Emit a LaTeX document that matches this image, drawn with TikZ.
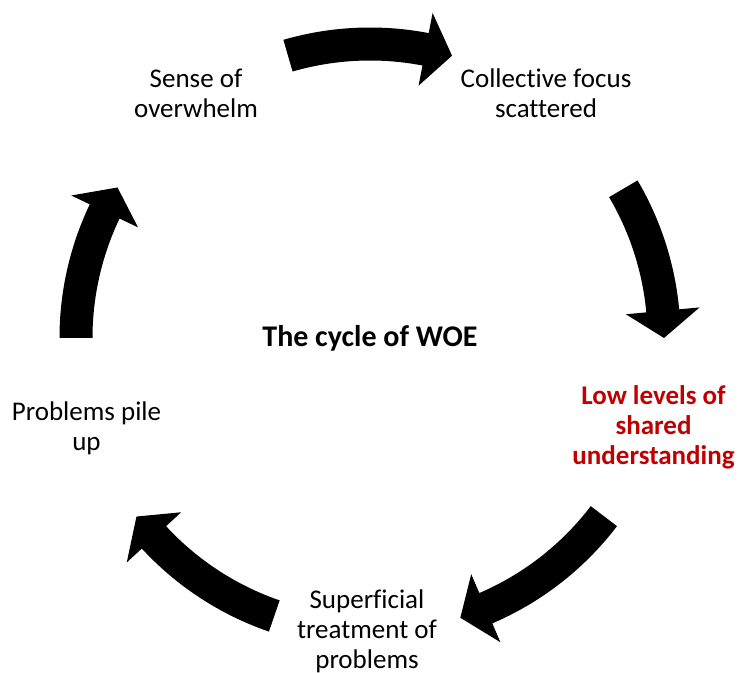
\documentclass[tikz,border=0pt]{standalone}
\usepackage{fontspec}
\setmainfont{Carlito}[Ligatures={TeX,NoCommon}]
\usetikzlibrary{positioning}
\definecolor{woered}{RGB}{192,0,0}

\begin{document}
\begin{tikzpicture}[x=1pt,y=1pt]
\tikzset{
  stagenode/.style={align=center,inner sep=0pt,font=\fontsize{27}{30}\selectfont},
  keynode/.style={stagenode,font=\fontsize{27}{30}\selectfont\bfseries,text=woered},
  titlenode/.style={inner sep=0pt,font=\fontsize{30}{32}\selectfont\bfseries},
  blockarrow/.style={fill=black}
}
\useasboundingbox (0,0) rectangle (738,672);
\coordinate (ctr) at (370,334);
\node[titlenode] (n_title) at (370,334) {The cycle of WOE};
\node[stagenode] (n_sense) at (196,579) {Sense of\\overwhelm};
\node[stagenode] (n_focus) at (546,579) {Collective focus\\scattered};
\node[keynode] (n_shared) at (653.5,245) {Low levels of\\shared\\understanding};
\node[stagenode] (n_superficial) at (367,41) {Superficial\\treatment of\\problems};
\node[stagenode] (n_pile) at (86.5,244) {Problems pile\\up};
% curved block arrows round the cycle
\foreach \sa/\ea in {106.2/73.8,30.5/0,-37.3/-72.1,-109/-142.6,180/149.2}{
  \pgfmathsetmacro{\ha}{\ea+5.3}
  \fill[blockarrow,shift={(ctr)}] (\sa:310.5) arc[start angle=\sa,end angle=\ha,radius=310.5pt]
    -- (\ha:331) -- (\ea:294) -- (\ha:257) -- (\ha:277.5)
    arc[start angle=\ha,end angle=\sa,radius=277.5pt] -- cycle;
}
\end{tikzpicture}
\end{document}
